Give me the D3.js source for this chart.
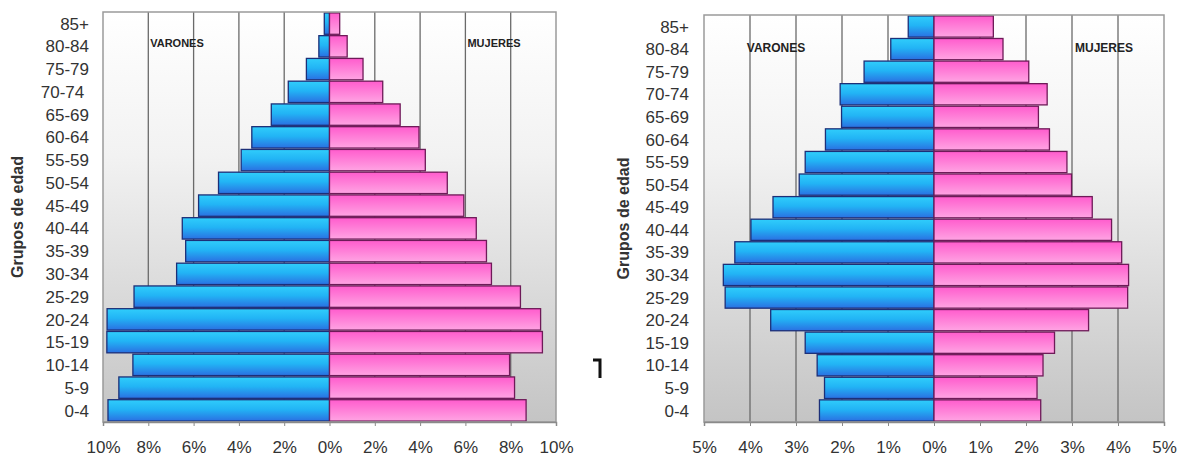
<!DOCTYPE html>
<html>
<head>
<meta charset="utf-8">
<script src="https://cdn.jsdelivr.net/npm/d3@7"></script>
<style>
  body { margin: 0; background: #fff; }
  svg { display: block; font-family: Arial, "Liberation Sans", sans-serif; }
</style>
</head>
<body>
<svg id="chart" width="1184" height="462"></svg>
<script>
// age groups, bottom to top
const ageGroups = ["0-4", "5-9", "10-14", "15-19", "20-24", "25-29", "30-34", "35-39", "40-44",
                   "45-49", "50-54", "55-59", "60-64", "65-69", "70-74", "75-79", "80-84", "85+"];
// left chart label for 70-74 carries a trailing space in the original
const ageLabelsLeft = ["0-4", "5-9", "10-14", "15-19", "20-24", "25-29", "30-34", "35-39", "40-44",
                       "45-49", "50-54", "55-59", "60-64", "65-69", "70-74\u00a0", "75-79", "80-84", "85+"];

// left pyramid (% of population)
const menLeft   = [9.78, 9.30, 8.68, 9.83, 9.82, 8.63, 6.75, 6.35, 6.50, 5.78, 4.90, 3.90, 3.43, 2.57, 1.82, 1.02, 0.47, 0.23];
const womenLeft = [8.68, 8.17, 7.95, 9.40, 9.32, 8.43, 7.15, 6.93, 6.48, 5.93, 5.20, 4.23, 3.95, 3.12, 2.35, 1.48, 0.78, 0.45];
const ticksLeft = [-10, -8, -6, -4, -2, 0, 2, 4, 6, 8, 10];

// right pyramid (% of population)
const menRight   = [2.49, 2.38, 2.54, 2.80, 3.55, 4.54, 4.58, 4.33, 3.98, 3.50, 2.93, 2.80, 2.36, 2.01, 2.04, 1.52, 0.94, 0.56];
const womenRight = [2.32, 2.24, 2.37, 2.62, 3.36, 4.21, 4.23, 4.08, 3.86, 3.44, 2.99, 2.89, 2.51, 2.27, 2.46, 2.06, 1.50, 1.29];
const ticksRight = [-5, -4, -3, -2, -1, 0, 1, 2, 3, 4, 5];

const axisTitle = "Grupos de edad";
const sideLabels = ["VARONES", "MUJERES"];

const svg = d3.select('#chart');
const defs = svg.append('defs');

function gradient(id, stops) {
  const lg = defs.append('linearGradient')
    .attr('id', id)
    .attr('x1', 0).attr('y1', 0).attr('x2', 0).attr('y2', 1);
  stops.forEach(s => lg.append('stop').attr('offset', s[0]).attr('stop-color', s[1]));
}
gradient('bgGrad', [[0, '#ffffff'], [0.35, '#f2f2f2'], [1, '#c4c4c4']]);
gradient('maleGrad', [[0, '#30cdfb'], [0.45, '#22b4f5'], [1, '#2a70e2']]);
gradient('femaleGrad', [[0, '#ff5ccd'], [0.5, '#ff80d8'], [1, '#ffa4e3']]);

function pyramid(cfg) {
  const x = d3.scaleLinear()
    .domain([cfg.ticks[0], cfg.ticks[cfg.ticks.length - 1]])
    .range([cfg.left, cfg.right]);
  const y = d3.scaleBand()
    .domain(ageGroups)
    .range([cfg.bottom, cfg.top])
    .paddingInner(0.06)
    .paddingOuter(0.04);

  const g = svg.append('g');

  // plot background
  g.append('rect')
    .attr('x', cfg.left).attr('y', cfg.top)
    .attr('width', cfg.right - cfg.left).attr('height', cfg.bottom - cfg.top)
    .attr('fill', 'url(#bgGrad)');

  // vertical gridlines
  g.selectAll('line.grid')
    .data(cfg.ticks.slice(1, -1))
    .enter()
    .append('line')
      .attr('class', 'grid')
      .attr('x1', d => x(d)).attr('x2', d => x(d))
      .attr('y1', cfg.top).attr('y2', cfg.bottom)
      .attr('stroke', '#6a6a6a')
      .attr('stroke-width', 1.3);

  // men bars (left side)
  g.selectAll('rect.men')
    .data(cfg.men)
    .enter()
    .append('rect')
      .attr('class', 'men')
      .attr('x', d => x(-d))
      .attr('y', (d, i) => y(ageGroups[i]))
      .attr('width', d => x(0) - x(-d))
      .attr('height', y.bandwidth())
      .attr('fill', 'url(#maleGrad)')
      .attr('stroke', '#1c2f78')
      .attr('stroke-width', 1.3);

  // women bars (right side)
  g.selectAll('rect.women')
    .data(cfg.women)
    .enter()
    .append('rect')
      .attr('class', 'women')
      .attr('x', x(0))
      .attr('y', (d, i) => y(ageGroups[i]))
      .attr('width', d => x(d) - x(0))
      .attr('height', y.bandwidth())
      .attr('fill', 'url(#femaleGrad)')
      .attr('stroke', '#6e1a58')
      .attr('stroke-width', 1.3);

  // plot border
  g.append('rect')
    .attr('x', cfg.left).attr('y', cfg.top)
    .attr('width', cfg.right - cfg.left).attr('height', cfg.bottom - cfg.top)
    .attr('fill', 'none')
    .attr('stroke', '#9a9a9a')
    .attr('stroke-width', 1.5);

  // x axis
  const xAxis = d3.axisBottom(x)
    .tickValues(cfg.ticks)
    .tickSize(4)
    .tickPadding(15)
    .tickFormat(d => Math.abs(d) + '%');
  const ax = g.append('g')
    .attr('transform', `translate(0, ${cfg.bottom})`)
    .call(xAxis);
  ax.select('.domain').attr('stroke', '#8a8a8a').attr('stroke-width', 1.5);
  ax.selectAll('.tick line').attr('stroke', '#8a8a8a');
  ax.selectAll('.tick text')
    .attr('fill', '#333')
    .style('font-size', '17px')
    .style('font-family', 'Arial, "Liberation Sans", sans-serif');

  // age group labels
  g.selectAll('text.age')
    .data(cfg.labels)
    .enter()
    .append('text')
      .attr('class', 'age')
      .attr('x', cfg.labelX)
      .attr('y', (d, i) => y(ageGroups[i]) + y.bandwidth() / 2)
      .attr('dy', '0.36em')
      .attr('text-anchor', 'end')
      .attr('fill', '#333')
      .style('font-size', '17px')
      .text(d => d);

  // y axis title
  g.append('text')
    .attr('transform', `translate(${cfg.titleX}, ${(cfg.top + cfg.bottom) / 2}) rotate(-90)`)
    .attr('text-anchor', 'middle')
    .attr('dy', '0.35em')
    .attr('fill', '#333')
    .style('font-size', '16px')
    .style('font-weight', 'bold')
    .text(axisTitle);

  // VARONES / MUJERES
  g.selectAll('text.side')
    .data(sideLabels)
    .enter()
    .append('text')
      .attr('class', 'side')
      .attr('x', (d, i) => cfg.sideX[i])
      .attr('y', cfg.sideY)
      .attr('dy', '0.35em')
      .attr('text-anchor', 'middle')
      .attr('fill', '#222')
      .style('font-size', cfg.sideSize + 'px')
      .style('font-weight', 'bold')
      .text(d => d);
}

pyramid({
  men: menLeft, women: womenLeft, ticks: ticksLeft, labels: ageLabelsLeft,
  left: 103, right: 556, top: 12, bottom: 422,
  labelX: 89, titleX: 17,
  sideX: [177, 494], sideY: 43, sideSize: 11
});

pyramid({
  men: menRight, women: womenRight, ticks: ticksRight, labels: ageGroups,
  left: 704, right: 1164, top: 15, bottom: 422,
  labelX: 689, titleX: 623,
  sideX: [776, 1104], sideY: 48, sideSize: 12
});

// small stray mark between the two charts
svg.append('path')
  .attr('d', 'M593,360 L600,360 L600,378')
  .attr('fill', 'none')
  .attr('stroke', '#111')
  .attr('stroke-width', 3);
</script>
</body>
</html>
